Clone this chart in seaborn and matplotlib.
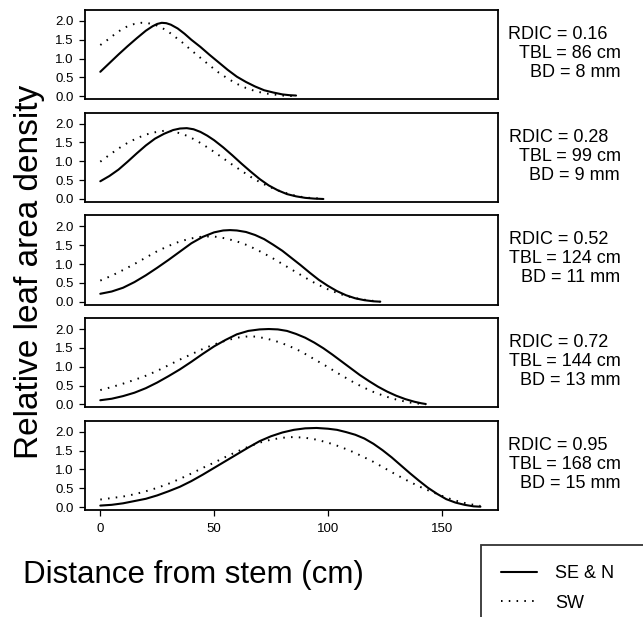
import matplotlib
matplotlib.use("Agg")
import matplotlib.pyplot as plt
import pandas as pd
import seaborn as sns

# ---- data (distance in cm, relative leaf area density) ----
rdic = ["0.16", "0.28", "0.52", "0.72", "0.95"]
tbl = ["86", "99", "124", "144", "168"]
bd = ["8", "9", "11", "13", "15"]

p1_se_x = [0, 4, 8, 12, 16, 20, 23, 25, 27, 29, 31, 34, 37, 40, 44, 48, 52, 56, 60, 64, 68,
           72, 76, 80, 83, 86]
p1_se_y = [0.65, 0.88, 1.11, 1.33, 1.54, 1.74, 1.86, 1.92, 1.95, 1.94, 1.90, 1.80, 1.66, 1.50,
           1.31, 1.10, 0.90, 0.70, 0.52, 0.38, 0.26, 0.16, 0.10, 0.05, 0.03, 0.02]
p1_sw_x = [0, 3, 6, 9, 12, 15, 18, 21, 24, 27, 30, 33, 36, 40, 44, 48, 52, 56, 60, 64, 68, 72,
           76, 80, 86]
p1_sw_y = [1.36, 1.49, 1.63, 1.76, 1.86, 1.92, 1.95, 1.94, 1.90, 1.82, 1.71, 1.57, 1.43, 1.22,
           1.02, 0.82, 0.63, 0.47, 0.33, 0.22, 0.14, 0.08, 0.05, 0.02, 0.0]

p2_se_x = [0, 4, 8, 12, 16, 20, 24, 28, 32, 35, 38, 41, 44, 47, 50, 54, 58, 62, 66, 70, 74,
           78, 82, 86, 90, 94, 98]
p2_se_y = [0.47, 0.61, 0.78, 0.99, 1.21, 1.42, 1.60, 1.73, 1.83, 1.87, 1.88, 1.85, 1.78, 1.68,
           1.56, 1.37, 1.16, 0.94, 0.73, 0.53, 0.36, 0.23, 0.13, 0.07, 0.03, 0.01, 0.0]
p2_sw_x = [0, 4, 8, 12, 16, 20, 24, 28, 31, 34, 38, 42, 46, 50, 54, 58, 62, 66, 70, 74, 78,
           82, 86, 90, 94, 98]
p2_sw_y = [0.99, 1.17, 1.34, 1.49, 1.61, 1.71, 1.77, 1.81, 1.80, 1.76, 1.68, 1.56, 1.41, 1.25,
           1.08, 0.91, 0.75, 0.59, 0.45, 0.33, 0.23, 0.15, 0.08, 0.04, 0.02, 0.01]

p3_se_x = [0, 5, 10, 15, 20, 25, 30, 35, 40, 45, 50, 54, 57, 60, 64, 68, 72, 76, 80, 84, 88,
           92, 96, 100, 104, 108, 112, 116, 120, 123]
p3_se_y = [0.21, 0.27, 0.37, 0.52, 0.70, 0.90, 1.11, 1.33, 1.55, 1.72, 1.84, 1.89, 1.90, 1.89,
           1.85, 1.77, 1.66, 1.51, 1.35, 1.16, 0.97, 0.77, 0.58, 0.42, 0.28, 0.17, 0.09, 0.04,
           0.01, 0.0]
p3_sw_x = [0, 5, 10, 15, 20, 25, 30, 35, 40, 45, 50, 55, 60, 65, 70, 75, 80, 85, 90, 95, 100,
           105, 110, 115, 120, 123]
p3_sw_y = [0.56, 0.69, 0.84, 1.00, 1.17, 1.34, 1.48, 1.60, 1.68, 1.73, 1.73, 1.68, 1.60, 1.49,
           1.34, 1.18, 1.00, 0.82, 0.64, 0.47, 0.33, 0.21, 0.12, 0.06, 0.02, 0.0]

p4_se_x = [0, 5, 10, 15, 20, 25, 30, 35, 40, 45, 50, 55, 60, 65, 70, 74, 78, 82, 86, 90, 94,
           98, 102, 106, 110, 114, 118, 122, 126, 130, 134, 138, 141, 143]
p4_se_y = [0.11, 0.15, 0.22, 0.31, 0.43, 0.58, 0.75, 0.93, 1.13, 1.34, 1.54, 1.71, 1.86, 1.95,
           1.99, 2.00, 1.99, 1.95, 1.87, 1.77, 1.64, 1.49, 1.32, 1.14, 0.96, 0.78, 0.62, 0.47,
           0.34, 0.23, 0.14, 0.07, 0.03, 0.01]
p4_sw_x = [0, 5, 10, 15, 20, 25, 30, 35, 40, 45, 50, 55, 60, 64, 68, 72, 76, 80, 84, 88, 92,
           96, 100, 104, 108, 112, 116, 120, 124, 128, 132, 136, 140, 143]
p4_sw_y = [0.38, 0.46, 0.55, 0.65, 0.76, 0.89, 1.04, 1.19, 1.33, 1.47, 1.59, 1.69, 1.77, 1.80,
           1.80, 1.76, 1.70, 1.62, 1.52, 1.41, 1.27, 1.13, 0.99, 0.84, 0.70, 0.56, 0.44, 0.33,
           0.24, 0.16, 0.10, 0.05, 0.02, 0.0]

p5_se_x = [0, 5, 10, 15, 20, 25, 30, 35, 40, 45, 50, 55, 60, 65, 70, 75, 80, 85, 90, 95, 100,
           104, 108, 112, 116, 120, 124, 128, 132, 136, 140, 144, 148, 152, 156, 160, 164, 167]
p5_se_y = [0.04, 0.06, 0.10, 0.16, 0.22, 0.31, 0.42, 0.54, 0.69, 0.86, 1.04, 1.22, 1.40, 1.58,
           1.75, 1.88, 1.98, 2.05, 2.09, 2.10, 2.08, 2.05, 1.99, 1.92, 1.82, 1.68, 1.51, 1.32,
           1.11, 0.90, 0.70, 0.51, 0.35, 0.21, 0.12, 0.06, 0.02, 0.01]
p5_sw_x = [0, 5, 10, 15, 20, 25, 30, 35, 40, 45, 50, 55, 60, 65, 70, 75, 80, 85, 90, 95, 100,
           105, 110, 115, 120, 125, 130, 135, 140, 145, 150, 155, 160, 164, 167]
p5_sw_y = [0.20, 0.24, 0.28, 0.34, 0.42, 0.51, 0.62, 0.75, 0.89, 1.04, 1.18, 1.33, 1.47, 1.60,
           1.71, 1.79, 1.84, 1.86, 1.84, 1.79, 1.71, 1.61, 1.49, 1.35, 1.20, 1.03, 0.86, 0.70,
           0.55, 0.42, 0.30, 0.19, 0.11, 0.06, 0.03]

panels = [
    (p1_se_x, p1_se_y, p1_sw_x, p1_sw_y),
    (p2_se_x, p2_se_y, p2_sw_x, p2_sw_y),
    (p3_se_x, p3_se_y, p3_sw_x, p3_sw_y),
    (p4_se_x, p4_se_y, p4_sw_x, p4_sw_y),
    (p5_se_x, p5_se_y, p5_sw_x, p5_sw_y),
]

# ---- style ----
sns.set_style("ticks")
plt.rcParams["font.family"] = ["Liberation Sans", "DejaVu Sans"]
for key in ["text.color", "axes.labelcolor", "xtick.color", "ytick.color", "axes.edgecolor"]:
    plt.rcParams[key] = "black"

W, H = 643, 617
fig = plt.figure(figsize=(W / 100, H / 100), dpi=100)

left_px, right_px = 85, 498
tops_px = [10, 112.7, 215.4, 318.1, 420.8]
height_px = 89.3
dotted = (0, (0.8, 3.2))

axes = []
for i, (sx, sy, wx, wy) in enumerate(panels):
    ax = fig.add_axes([left_px / W, 1 - (tops_px[i] + height_px) / H,
                       (right_px - left_px) / W, height_px / H])
    se = pd.DataFrame({"dist": sx, "lad": sy})
    sw = pd.DataFrame({"dist": wx, "lad": wy})
    sns.lineplot(data=se, x="dist", y="lad", ax=ax, color="black", lw=1.5,
                 label="SE & N")
    sns.lineplot(data=sw, x="dist", y="lad", ax=ax, color="black", lw=1.4,
                 linestyle=dotted, label="SW")
    ax.get_legend().remove()
    ax.set_xlim(-6.72, 174.72)
    ax.set_ylim(-0.08, 2.29)
    ax.set_yticks([0, 0.5, 1.0, 1.5, 2.0])
    ax.set_yticklabels(["0.0", "0.5", "1.0", "1.5", "2.0"])
    ax.set_xlabel("")
    ax.set_ylabel("")
    for s in ax.spines.values():
        s.set_linewidth(1.3)
        s.set_visible(True)
    ax.tick_params(axis="y", labelsize=9.5, length=4.3, width=0.9, pad=4, direction="out")
    if i < 4:
        ax.tick_params(axis="x", bottom=False, labelbottom=False)
    else:
        ax.set_xticks([0, 50, 100, 150])
        ax.tick_params(axis="x", labelsize=9.5, length=4.5, width=0.9, pad=5)

    # annotations to the right of each panel
    def fy(off):
        return 1 - off / height_px
    def fx(px):
        return (px - left_px) / (right_px - left_px)
    ax.text(fx(608), fy(24.5), f"RDIC = {rdic[i]}", transform=ax.transAxes,
            ha="right", va="center", fontsize=13)
    ax.text(fx(621), fy(43.5), f"TBL = {tbl[i]} cm", transform=ax.transAxes,
            ha="right", va="center", fontsize=13)
    ax.text(fx(620), fy(62.5), f"BD = {bd[i]} mm", transform=ax.transAxes,
            ha="right", va="center", fontsize=13)
    axes.append(ax)

fig.text(30 / W, 1 - 272 / H, "Relative leaf area density", rotation=90,
         ha="center", va="center", fontsize=24)
fig.text(193 / W, 1 - 575 / H, "Distance from stem (cm)",
         ha="center", va="center", fontsize=22.5)

# legend box starts at (481, 545) px and runs off the right/bottom edge
h_se = axes[0].lines[0]
h_sw = axes[0].lines[1]
leg_h = 110 / H
leg = fig.legend([h_se, h_sw], ["SE & N", "SW"], loc="upper left",
                 bbox_to_anchor=(481 / W, 1 - 545 / H - leg_h, 240 / W, leg_h),
                 mode="expand", fontsize=13,
                 frameon=True, fancybox=False, borderpad=1.1, labelspacing=0.7,
                 handlelength=2.0, handletextpad=1.0, borderaxespad=0)
leg.get_frame().set_edgecolor("black")
leg.get_frame().set_linewidth(1.3)

fig.savefig("out.png", dpi=100)
